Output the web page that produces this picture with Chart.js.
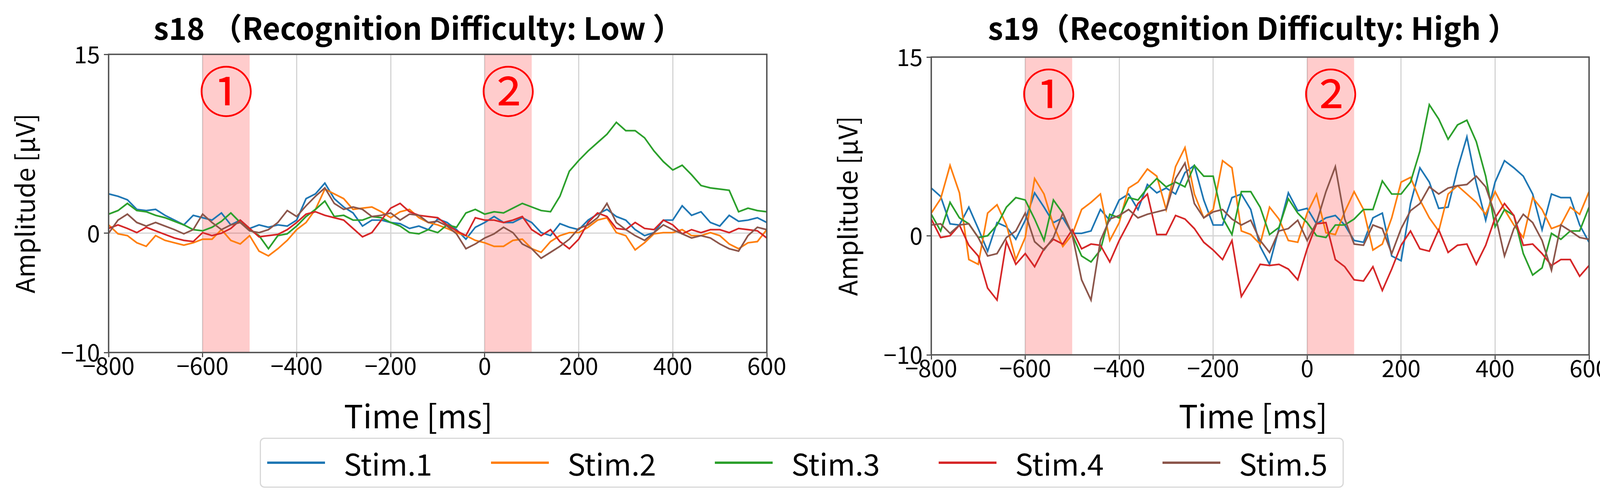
<!DOCTYPE html>
<html>
<head>
<meta charset="utf-8">
<script src="https://cdn.jsdelivr.net/npm/chart.js@4.4.1/dist/chart.umd.min.js"></script>
<style>
  html, body { margin: 0; padding: 0; background: #fff; width: 4157px; height: 1282px; overflow: hidden; }
  canvas { position: absolute; top: 0; }
  #c18 { left: 0; }
  #c19 { left: 2106px; }
  #legend {
    position: absolute; left: 665px; top: 1120px; width: 2775px; height: 128px;
    box-sizing: border-box; border: 3px solid #d8d8d8; border-radius: 12px;
    display: flex; align-items: center; padding-left: 16px;
    font-family: 'Noto Sans CJK SC', 'Noto Sans', sans-serif; font-size: 76px; color: #000;
  }
  .item { display: flex; align-items: center; width: 573px; flex: none; }
  .swatch { width: 148px; height: 6px; margin-right: 48px; }
</style>
</head>
<body>
<canvas id="c18" width="2142" height="1282"></canvas>
<canvas id="c19" width="2204" height="1282"></canvas>
<div id="legend"></div>
<script>
// time axis, 20 ms steps
var times = [-800,-780,-760,-740,-720,-700,-680,-660,-640,-620,-600,-580,-560,-540,-520,-500,-480,-460,-440,-420,
  -400,-380,-360,-340,-320,-300,-280,-260,-240,-220,-200,-180,-160,-140,-120,-100,-80,-60,-40,-20,
  0,20,40,60,80,100,120,140,160,180,200,220,240,260,280,300,320,340,360,380,400,420,440,460,480,500,520,540,560,580,600];

var stimLabels = ['Stim.1', 'Stim.2', 'Stim.3', 'Stim.4', 'Stim.5'];
var stimColors = ['#1f77b4', '#ff7f0e', '#2ca02c', '#d62728', '#8c564b'];
var xTicks = [-800, -600, -400, -200, 0, 200, 400, 600];
var yTicks = [-10, 0, 15];
var windows = [[-600, -500], [0, 100]];
var windowMarks = ['①', '②'];
var markLevel = 11.9;

// s18 (low difficulty)
var s18_stim1 = [3.3,3.1,2.8,2.0,1.9,2.0,1.5,1.1,0.7,1.5,1.3,1.1,1.7,0.7,1.1,0.4,0.7,0.5,0.7,0.6,1.1,2.9,3.3,4.2,
  2.9,2.2,1.7,0.6,1.1,1.1,0.9,0.8,0.4,0.6,0.3,1.2,0.9,0.3,-0.5,0.5,0.9,1.4,0.9,0.9,1.3,0.9,0.05,
  -0.2,0.8,0.5,0.3,1.1,1.6,2.0,1.4,1.1,0.3,-0.2,0.05,1.1,1.1,2.3,1.5,1.8,0.9,0.6,1.5,1.0,1.1,1.3,0.9];
var s18_stim2 = [0.7,-0.05,-0.2,-0.8,-1.1,-0.2,-0.6,-0.8,-1.0,-0.8,-0.5,-0.5,0.3,-0.6,-0.9,-0.2,-1.5,-1.9,-1.3,-0.6,0.3,0.9,2.0,3.7,
  3.3,2.9,2.0,2.1,2.2,1.8,1.3,1.8,2.0,1.3,0.9,0.7,0.4,0.05,-0.2,-0.6,-0.8,-1.1,-1.1,-0.6,-0.5,-1.3,-1.6,
  -0.7,-0.2,0.05,0.05,0.5,1.1,1.3,0.05,-0.2,-1.4,-0.8,-0.05,0.05,0.05,0.3,-0.2,-0.2,0.05,-0.2,-0.9,-1.3,-0.8,-0.7,0.3];
var s18_stim3 = [1.6,1.9,2.5,1.9,1.8,1.5,1.3,1.0,0.7,0.3,0.2,0.5,1.0,1.7,0.9,0.3,-0.2,-1.3,-0.2,-0.05,0.6,1.4,2.0,2.7,
  1.4,1.5,1.1,1.1,1.4,1.3,0.9,0.6,0.05,-0.05,0.3,0.05,0.7,0.5,1.7,2.0,1.6,1.8,1.7,2.1,2.5,2.2,1.9,
  1.8,3.1,5.2,6.1,6.9,7.6,8.3,9.3,8.6,8.6,8.0,6.9,6.0,5.3,5.7,4.9,4.0,3.8,3.7,3.6,1.8,2.1,1.9,1.8];
var s18_stim4 = [0.4,0.7,0.4,0.05,0.5,0.2,-0.1,-0.4,-0.6,-0.7,0.05,-0.2,0,0.4,1.1,0.4,-0.3,-0.2,-0.1,0.3,0.9,1.6,1.8,1.5,
  1.3,1.1,0.4,-0.3,0.05,1.1,2.1,2.5,1.8,1.5,1.4,1.3,0.7,0.2,-0.2,1.3,1.1,1.1,0.9,1.1,1.4,0.3,-0.2,
  0.3,-0.7,-1.3,-0.5,0.9,1.7,1.4,0.4,0.3,0.9,0.4,0.3,1.1,0.7,-0.05,0.3,0.05,0.3,0.3,0.05,0.4,0.3,0.2,-0.4];
var s18_stim5 = [0,1.1,1.6,0.9,0.6,0.9,0.6,0.3,-0.05,0.3,1.6,0.9,0.3,0.7,0.9,0.2,0.05,0.3,0.9,1.9,1.4,2.3,3.1,3.8,
  2.5,2.0,2.2,2.0,1.4,1.5,1.7,1.1,1.6,1.5,0.9,1.0,0.6,-0.05,-1.3,-0.9,-0.4,-0.05,0.5,0.05,-0.9,-1.3,-2.1,
  -1.6,-1.1,-0.5,0.4,0.7,1.3,2.5,0.9,0.3,-0.2,-0.6,0.05,0.7,0.3,-0.05,-0.4,-0.2,-0.4,-0.9,-1.3,-1.5,-0.2,0.5,0.3];

// s19 (high difficulty)
var s19_stim1 = [4.0,3.3,1.0,0.9,2.4,0.6,-1.3,1.1,0.75,-0.3,1.3,3.6,2.4,1.1,1.5,0.2,0.2,0.4,2.2,1.3,3.0,3.5,2.2,4.3,
  3.6,4.0,3.5,5.3,5.9,3.0,0.9,0.9,3.2,3.5,2.2,-0.9,-2.4,0.6,3.6,2.1,2.3,1.0,1.5,1.7,0.9,-0.4,-0.55,
  1.5,1.9,-1.7,-2.1,2.7,5.7,4.5,2.3,2.4,5.6,8.3,4.4,1.3,4.5,6.3,5.7,5.0,3.5,0.5,3.5,3.2,3.2,0.9,-0.55];
var s19_stim2 = [1.9,3.1,5.9,3.6,-2.0,-2.4,1.9,2.6,0.9,-2.0,-0.15,4.8,3.5,0.9,-0.9,0.1,2.2,2.8,3.5,-0.4,1.1,4.0,4.5,5.6,
  5.0,2.2,5.8,7.4,3.5,1.5,2.2,6.3,5.7,0.4,0.1,-0.7,2.4,1.4,-0.4,-0.55,1.9,3.5,0.25,0.1,2.0,3.7,2.2,
  -1.2,-0.7,1.5,4.5,4.9,3.0,1.5,0.4,3.5,4.2,3.5,2.8,1.8,3.7,2.2,0.9,-0.15,3.2,2.2,0.6,0.9,2.4,1.8,3.7];
var s19_stim3 = [1.8,0.4,2.8,1.5,1.0,-0.15,0,0.9,2.4,3.2,3.0,1.4,-0.4,3.0,1.9,0.1,-1.7,-2.2,-1.2,1.8,1.5,3.2,3.0,4.0,
  4.8,4.1,4.5,4.1,5.9,5.0,5.0,1.5,0.1,3.7,3.7,2.4,0.1,0.7,3.1,1.9,1.1,0,-0.15,0.9,0.9,1.4,2.2,
  2.2,4.6,3.5,3.5,4.5,7.1,11.0,9.8,8.1,9.3,9.7,7.9,5.0,0.75,2.2,1.7,-1.5,-3.3,-2.7,0.2,-0.3,0.4,0.4,2.4];
var s19_stim4 = [1.4,-0.15,0,0.9,-0.8,-1.7,-4.4,-5.4,-0.5,-2.4,-1.5,-2.6,-1.1,-0.3,-0.7,0.5,-1.1,-0.7,-0.8,-2.2,-0.4,1.1,2.7,3.5,
  0.1,0.1,1.7,1.4,0.6,-0.55,-1.2,-2.0,-0.4,-5.1,-3.8,-2.4,-2.5,-2.4,-2.8,-3.7,-1.1,1.0,1.1,-2.0,-2.6,-3.7,-3.8,
  -2.6,-4.6,-2.8,-0.8,0.4,-1.1,-1.3,0.5,-1.4,-0.8,-0.7,-2.4,-0.8,1.5,2.7,1.7,-0.8,-0.7,-1.5,-2.5,-2.0,-2.0,-3.4,-2.5];
var s19_stim5 = [0.9,1.0,0.2,0.9,1.0,-0.15,-1.7,-1.5,-0.15,0.4,1.9,-0.5,-1.2,-0.15,1.9,0.1,-3.7,-5.4,-0.4,1.4,1.7,2.2,1.5,1.8,
  2.0,2.2,4.8,6.1,2.7,1.5,2.0,2.2,1.4,0.9,1.3,-0.4,-1.4,0.4,0.6,1.3,-0.4,1.1,3.7,5.8,1.4,-0.7,-0.8,
  0.9,0.6,-1.5,0.6,2.1,2.7,4.1,3.5,4.0,4.2,4.3,5.0,4.1,1.8,-1.7,0.6,1.8,1.1,-0.4,-2.9,0.9,0.4,-0.15,-0.3];

var fontFamily = "'Noto Sans CJK SC', 'Noto Sans', sans-serif";

// shaded windows, circled marks and the box round the axes
var windowPlugin = {
  id: 'windows',
  beforeDatasetsDraw: function(chart) {
    var ctx = chart.ctx, a = chart.chartArea, xs = chart.scales.x;
    ctx.save();
    ctx.fillStyle = 'rgba(255, 0, 0, 0.2)';
    windows.forEach(function(w) {
      var x0 = xs.getPixelForValue(w[0]), x1 = xs.getPixelForValue(w[1]);
      ctx.fillRect(x0, a.top, x1 - x0, a.bottom - a.top);
    });
    ctx.restore();
  },
  afterDatasetsDraw: function(chart) {
    var ctx = chart.ctx, a = chart.chartArea, xs = chart.scales.x, ys = chart.scales.y;
    ctx.save();
    ctx.fillStyle = '#ff0000';
    ctx.font = '140px ' + fontFamily;
    ctx.textAlign = 'center';
    ctx.textBaseline = 'middle';
    windows.forEach(function(w, i) {
      ctx.fillText(windowMarks[i], xs.getPixelForValue((w[0] + w[1]) / 2), ys.getPixelForValue(markLevel));
    });
    ctx.strokeStyle = '#505050';
    ctx.lineWidth = 3.5;
    ctx.strokeRect(a.left, a.top, a.right - a.left, a.bottom - a.top);
    ctx.restore();
  }
};

function pts(vals) {
  return times.map(function(t, i) { return { x: t, y: vals[i] }; });
}

function makeChart(id, titleText, series, titleBottom, xAxisH, rightGap) {
  return new Chart(document.getElementById(id), {
    type: 'line',
    data: {
      datasets: series.map(function(vals, i) {
        return {
          label: stimLabels[i],
          data: pts(vals),
          borderColor: stimColors[i],
          backgroundColor: stimColors[i],
          order: series.length - i
        };
      })
    },
    options: {
      responsive: false,
      animation: false,
      devicePixelRatio: 1,
      layout: { padding: 0 },
      elements: { point: { radius: 0 }, line: { borderWidth: 4.2, tension: 0 } },
      plugins: {
        legend: { display: false },
        tooltip: { enabled: false },
        title: {
          display: true, text: titleText, color: '#000',
          font: { size: 78, weight: 'bold' },
          padding: { top: 26, bottom: titleBottom }
        },
        // x-axis label, centred under the whole panel as in the figure
        subtitle: {
          display: true, position: 'bottom', text: 'Time [ms]', color: '#000',
          font: { size: 82, weight: 'normal' },
          padding: { top: 0, bottom: 168 }
        }
      },
      scales: {
        x: {
          type: 'linear', min: -800, max: 600,
          afterBuildTicks: function(s) { s.ticks = xTicks.map(function(v) { return { value: v }; }); },
          afterFit: function(s) { s.height = xAxisH; },
          ticks: {
            color: '#000', font: { size: 60 }, padding: -14, maxRotation: 0, autoSkip: false,
            callback: function(v) { return String(v).replace('-', '\u2212'); }
          },
          grid: { color: '#d4d4d4', lineWidth: 3, tickColor: '#505050', tickLength: 12, tickWidth: 3 },
          border: { display: false }
        },
        y: {
          min: -10, max: 15,
          afterBuildTicks: function(s) { s.ticks = yTicks.map(function(v) { return { value: v }; }); },
          afterFit: function(s) { s.width = 278; },
          ticks: {
            color: '#000', font: { size: 60 }, padding: 10,
            callback: function(v) { return String(v).replace('-', '\u2212'); }
          },
          grid: { color: '#d4d4d4', lineWidth: 3, tickColor: '#505050', tickLength: 12, tickWidth: 3 },
          border: { display: false },
          title: { display: true, text: 'Amplitude [μV]', color: '#000', font: { size: 66 }, padding: { top: 24, bottom: 0 } }
        },
        // empty right-hand margin so the titles centre over the whole panel
        yGap: {
          axis: 'y', position: 'right',
          afterFit: function(s) { s.width = rightGap; },
          ticks: { display: false },
          grid: { display: false },
          border: { display: false }
        }
      }
    },
    plugins: [windowPlugin]
  });
}

function buildLegend() {
  var box = document.getElementById('legend');
  stimLabels.forEach(function(name, i) {
    var item = document.createElement('div');
    item.className = 'item';
    var sw = document.createElement('div');
    sw.className = 'swatch';
    sw.style.background = stimColors[i];
    var txt = document.createElement('span');
    txt.textContent = name;
    item.appendChild(sw);
    item.appendChild(txt);
    box.appendChild(item);
  });
}

function draw() {
  Chart.defaults.font.family = fontFamily;
  // subtitle block = 82*1.2 + 168 = 266.4 px tall, so x-axis height puts plot bottom at 902 / 908
  makeChart('c18', 's18 （Recognition Difficulty: Low ）',
    [s18_stim1, s18_stim2, s18_stim3, s18_stim4, s18_stim5], 19.4, 113.6, 179);
  makeChart('c19', 's19（Recognition Difficulty: High ）',
    [s19_stim1, s19_stim2, s19_stim3, s19_stim4, s19_stim5], 26.4, 107.6, 242);
  buildLegend();
}

Promise.all([
  document.fonts.load("bold 78px 'Noto Sans CJK SC'"),
  document.fonts.load("60px 'Noto Sans CJK SC'")
]).then(draw, draw);
</script>
</body>
</html>
